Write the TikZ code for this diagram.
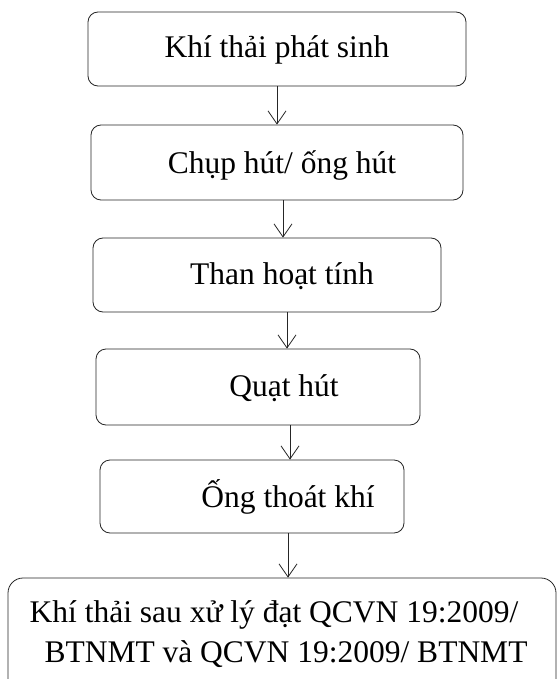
\documentclass[tikz,border=0pt]{standalone}
\usepackage{fontspec}
\setmainfont{Liberation Serif}
\usetikzlibrary{arrows.meta}
\begin{document}
\begin{tikzpicture}[x=1pt,y=-1pt,
  box/.style={draw=black!85, line width=0.8pt, rounded corners=10pt, inner sep=0pt, minimum width=#1},
  lbl/.style={font=\fontsize{31.5}{40}\selectfont, inner sep=0pt, anchor=base},
  arr/.style={draw=black!85, line width=0.8pt, -{Straight Barb[length=13pt,width=18pt]}}]
\clip (0,0) rectangle (558,679);
\fill[white] (0,0) rectangle (558,679);
% boxes
\node[box=378pt, minimum height=74pt] (b1) at (277,49) {};
\node[box=372pt, minimum height=75pt] (b2) at (277,162.5) {};
\node[box=348pt, minimum height=74pt] (b3) at (267,275) {};
\node[box=324pt, minimum height=76pt] (b4) at (258,387) {};
\node[box=304pt, minimum height=73pt] (b5) at (252,496.5) {};
\node[box=548pt, minimum height=142pt, rounded corners=15pt] (b6) at (282,649) {};
% texts
\node[lbl] (t1) at (277,58) {Khí thải phát sinh};
\node[lbl] (t2) at (282,173) {Chụp hút/ ống hút};
\node[lbl] (t3) at (282,284) {Than hoạt tính};
\node[lbl] (t4) at (284,396) {Quạt hút};
\node[lbl] (t5) at (288,507) {Ống thoát khí};
\node[lbl] (t6a) at (274,622) {Khí thải sau xử lý đạt QCVN 19:2009/};
\node[lbl] (t6b) at (286,662) {BTNMT và QCVN 19:2009/ BTNMT};
% arrows
\coordinate (x1) at (277,0);
\coordinate (x2) at (283,0);
\coordinate (x3) at (287,0);
\coordinate (x4) at (290,0);
\coordinate (x5) at (288,0);
\draw[arr] (b1.south -| x1) -- (b2.north -| x1);
\draw[arr] (b2.south -| x2) -- (b3.north -| x2);
\draw[arr] (b3.south -| x3) -- (b4.north -| x3);
\draw[arr] (b4.south -| x4) -- (b5.north -| x4);
\draw[arr] (b5.south -| x5) -- (b6.north -| x5);
\end{tikzpicture}
\end{document}
